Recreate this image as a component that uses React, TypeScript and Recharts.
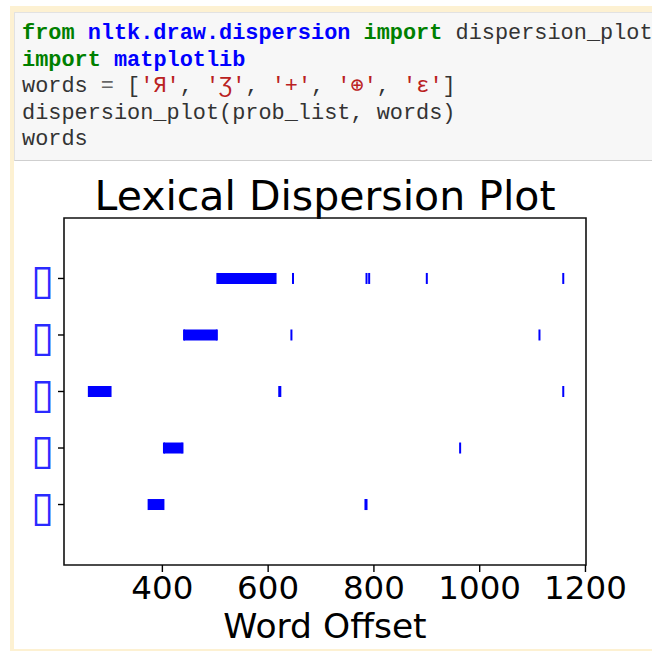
import React from "react";
import { ScatterChart, Scatter, XAxis, YAxis, ReferenceArea } from "recharts";

// words searched for, as typed in the notebook cell
const words = ["Я", "Ʒ", "+", "⊕", "ɛ"];
// the plot font has no glyph for them, so every tick label comes out as a box
const MISSING_GLYPH = "▯";

// long runs of consecutive hits, one run per word
const blockStart = [504, 441, 261, 403, 374];
const blockEnd = [614, 503, 302, 438, 402];
// isolated hits per word
const hitOffsets = [
  [647, 786, 791, 900, 1158],
  [644, 1113],
  [621, 623, 1158],
  [963],
  [784, 786],
];

const xTicks = [400, 600, 800, 1000, 1200];
const xDomain = [214, 1201];
const yDomain = [-1.07, 5.07];

const BLUE = "#0000ff";
const MPL_FONT = "'DejaVu Sans', sans-serif";

const rowOf = (i: number) => words.length - 1 - i;

const hitPoints = hitOffsets.flatMap((offs, i) =>
  offs.map((x) => ({ x, y: rowOf(i) }))
);
const blocks = words.map((_, i) => [
  { x: blockStart[i], y: rowOf(i) },
  { x: blockEnd[i], y: rowOf(i) },
]);

const TickMark = (props: any) => {
  const { cx, cy } = props;
  if (cx == null || cy == null) return null;
  return <rect x={cx - 1} y={cy - 5.5} width={2} height={11} fill={BLUE} />;
};

const YTick = (props: any) => {
  const { x, y, payload } = props;
  return (
    <text
      x={x - 1}
      y={y + 16}
      textAnchor="end"
      fill="#2a2aff"
      fontSize={42}
      fontFamily={MPL_FONT}
    >
      <title>{words[rowOf(payload.value)]}</title>
      {MISSING_GLYPH}
    </text>
  );
};

const kw = { color: "#008000", fontWeight: 700 };
const ns = { color: "#0000ff", fontWeight: 700 };
const str = { color: "#ba2121" };
const op = { color: "#666" };

function Code() {
  return (
    <div
      style={{
        position: "absolute",
        left: 22,
        top: 21,
        fontFamily: "'Liberation Mono', monospace",
        fontSize: 21.9,
        lineHeight: "26.5px",
        color: "#333",
        whiteSpace: "pre",
      }}
    >
      <div>
        <span style={kw}>from</span> <span style={ns}>nltk.draw.dispersion</span>{" "}
        <span style={kw}>import</span> dispersion_plot
      </div>
      <div>
        <span style={kw}>import</span> <span style={ns}>matplotlib</span>
      </div>
      <div>
        words <span style={op}>=</span> [
        {words.map((w, i) => (
          <span key={i}>
            <span style={str}>'{w}'</span>
            {i < words.length - 1 ? ", " : ""}
          </span>
        ))}
        ]
      </div>
      <div>dispersion_plot(prob_list, words)</div>
      <div>words</div>
    </div>
  );
}

export default function App() {
  return (
    <div
      style={{
        position: "absolute",
        left: 0,
        top: 0,
        width: 652,
        height: 651,
        background: "#fff",
        overflow: "hidden",
      }}
    >
      {/* cell frame */}
      <div
        style={{
          position: "absolute",
          left: 10,
          top: 6,
          width: 660,
          height: 645,
          background: "#fdf1d2",
        }}
      />
      {/* code input */}
      <div
        style={{
          position: "absolute",
          left: 14,
          top: 12,
          width: 660,
          height: 147,
          background: "#f7f7f7",
          border: "1px solid #e2e2e2",
          borderBottom: "1px solid #cfcfcf",
        }}
      />
      <Code />
      {/* output area */}
      <div
        style={{
          position: "absolute",
          left: 14,
          top: 161,
          width: 660,
          height: 488,
          background: "#fff",
        }}
      />
      <div
        style={{
          position: "absolute",
          left: 64,
          top: 176,
          width: 522,
          textAlign: "center",
          fontFamily: MPL_FONT,
          fontSize: 41,
          lineHeight: "40px",
          color: "#000",
        }}
      >
        Lexical Dispersion Plot
      </div>
      <div style={{ position: "absolute", left: 0, top: 161 }}>
        <ScatterChart
          width={652}
          height={488}
          margin={{ top: 57, right: 66, bottom: 4, left: 0 }}
        >
          <XAxis
            type="number"
            dataKey="x"
            domain={xDomain}
            ticks={xTicks}
            interval={0}
            allowDataOverflow
            axisLine={false}
            tickSize={7}
            tickMargin={4}
            tickLine={{ stroke: "#000", strokeWidth: 1.4 }}
            tick={{ fill: "#000", fontSize: 32.5, fontFamily: MPL_FONT }}
            height={80}
            label={{
              value: "Word Offset",
              position: "insideBottom",
              offset: 7,
              fill: "#000",
              fontSize: 34.5,
              fontFamily: MPL_FONT,
            }}
          />
          <YAxis
            type="number"
            dataKey="y"
            domain={yDomain}
            ticks={[0, 1, 2, 3, 4]}
            interval={0}
            allowDataOverflow
            axisLine={false}
            width={64}
            tickSize={6}
            tickMargin={3}
            tickLine={{ stroke: "#000", strokeWidth: 1.4 }}
            tick={<YTick />}
          />
          <ReferenceArea
            x1={xDomain[0]}
            x2={xDomain[1]}
            y1={yDomain[0]}
            y2={yDomain[1]}
            fill="#fff"
            fillOpacity={0}
            stroke="#111"
            strokeWidth={1.6}
          />
          {blocks.map((b, i) => (
            <Scatter
              key={i}
              data={b}
              fill={BLUE}
              line={{ stroke: BLUE, strokeWidth: 11 }}
              shape={<TickMark />}
              isAnimationActive={false}
            />
          ))}
          <Scatter
            data={hitPoints}
            fill={BLUE}
            shape={<TickMark />}
            isAnimationActive={false}
          />
        </ScatterChart>
      </div>
    </div>
  );
}
